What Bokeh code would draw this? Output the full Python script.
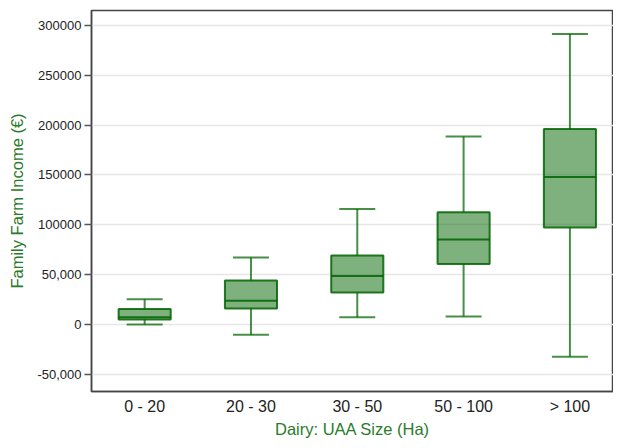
from bokeh.plotting import figure
from bokeh.models import Range1d, FixedTicker, ColumnDataSource
from bokeh.transform import dodge
from bokeh.embed import file_html
from bokeh.resources import INLINE

# ---- data ----
categories = ["0 - 20", "20 - 30", "30 - 50", "50 - 100", "> 100"]
lower_whisker = [300, -9800, 7500, 8400, -31900]
q1 = [5300, 16300, 32500, 61000, 97500]
median = [7600, 24000, 49000, 85500, 148000]
q3 = [15900, 44500, 69500, 112800, 196000]
upper_whisker = [25600, 67300, 116000, 188500, 291000]

y_ticks = [-50000, 0, 50000, 100000, 150000, 200000, 250000, 300000]
y_tick_labels = ["-50,000", "0", "50,000", "100000", "150000", "200000", "250000", "300000"]

GREEN = "#006400"
TEXT_GREEN = "#2a7a2a"
FONT = "Liberation Sans"
BOX_W = 0.49

xs = list(range(len(categories)))
src = ColumnDataSource(dict(x=xs, lo=lower_whisker, q1=q1, med=median, q3=q3, hi=upper_whisker))

p = figure(width=613, height=440, output_backend="svg", toolbar_location=None,
           x_range=Range1d(-0.5, 4.41), y_range=Range1d(-66700, 314600),
           min_border=0, min_border_left=91, min_border_right=0, min_border_top=10, min_border_bottom=46)

p.outline_line_color = "#444444"
p.outline_line_width = 1.5
p.background_fill_color = "white"
p.border_fill_color = "white"

# grid
p.xgrid.grid_line_color = None
p.ygrid.grid_line_color = "#e6e6e6"
p.ygrid.grid_line_width = 1.5
p.ygrid.ticker = FixedTicker(ticks=y_ticks)

# whisker stems
p.segment(x0="x", y0="q3", x1="x", y1="hi", source=src, line_color=GREEN, line_alpha=0.72, line_width=2)
p.segment(x0="x", y0="lo", x1="x", y1="q1", source=src, line_color=GREEN, line_alpha=0.72, line_width=2)
# caps
p.scatter(x="x", y="hi", source=src, marker="dash", size=36, line_color=GREEN, line_alpha=0.72, line_width=2)
p.scatter(x="x", y="lo", source=src, marker="dash", size=36, line_color=GREEN, line_alpha=0.72, line_width=2)
# boxes
p.vbar(x="x", width=BOX_W, bottom="q1", top="q3", source=src,
       fill_color=GREEN, fill_alpha=0.5, line_color=GREEN, line_width=2, line_alpha=0.85)
# medians
p.segment(x0=dodge("x", -BOX_W / 2), y0="med", x1=dodge("x", BOX_W / 2), y1="med", source=src,
          line_color=GREEN, line_width=2, line_alpha=0.85)

# x axis
p.xaxis.ticker = FixedTicker(ticks=xs)
p.xaxis.major_label_overrides = {i: c for i, c in zip(xs, categories)}
p.xaxis.major_tick_line_color = None
p.xaxis.major_tick_out = 0
p.xaxis.major_tick_in = 0
p.xaxis.minor_tick_line_color = None
p.xaxis.axis_line_color = "#444444"
p.xaxis.axis_line_width = 1.5
p.xaxis.major_label_text_font = FONT
p.xaxis.major_label_text_font_size = "16px"
p.xaxis.major_label_text_color = "#222222"
p.xaxis.major_label_standoff = 6
p.xaxis.axis_label = "Dairy: UAA Size (Ha)"
p.xaxis.axis_label_text_font = FONT
p.xaxis.axis_label_text_font_size = "16.5px"
p.xaxis.axis_label_text_font_style = "normal"
p.xaxis.axis_label_text_color = TEXT_GREEN
p.xaxis.axis_label_standoff = 2

# y axis
p.yaxis.ticker = FixedTicker(ticks=y_ticks)
p.yaxis.major_label_overrides = {t: l for t, l in zip(y_ticks, y_tick_labels)}
p.yaxis.minor_tick_line_color = None
p.yaxis.major_tick_in = 0
p.yaxis.major_tick_out = 7
p.yaxis.major_tick_line_color = "#555555"
p.yaxis.major_tick_line_width = 1.5
p.yaxis.axis_line_color = "#444444"
p.yaxis.axis_line_width = 1.5
p.yaxis.major_label_text_font = FONT
p.yaxis.major_label_text_font_size = "13px"
p.yaxis.major_label_text_color = "#222222"
p.yaxis.major_label_standoff = 3
p.yaxis.axis_label = "Family Farm Income (€)"
p.yaxis.axis_label_text_font = FONT
p.yaxis.axis_label_text_font_size = "16.5px"
p.yaxis.axis_label_text_font_style = "normal"
p.yaxis.axis_label_text_color = TEXT_GREEN
p.yaxis.axis_label_standoff = 8

open("out.html", "w").write(file_html(p, INLINE))
